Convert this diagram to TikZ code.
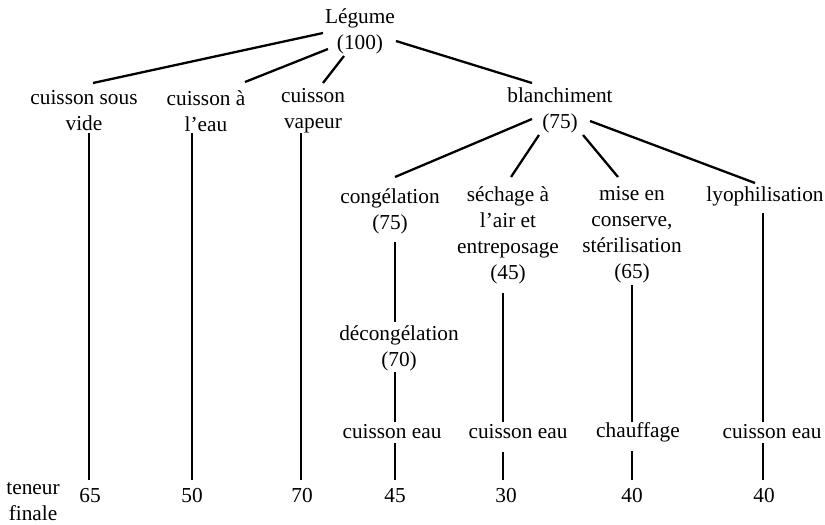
\documentclass[tikz,border=0pt]{standalone}
\usepackage{fontspec}
\setmainfont{Liberation Serif}
\usetikzlibrary{calc}
\begin{document}
\begin{tikzpicture}[x=1pt,y=-1pt,
  lbl/.style={inner sep=0pt,align=center,font=\fontsize{21.3}{26}\selectfont},
  conn/.style={line width=2.3pt}]
\useasboundingbox (0,0) rectangle (825,525);
% nodes
\node[lbl] (leg) at (360,31) {Légume\\(100)};
\node[lbl] (csv) at (84,111) {cuisson sous\\vide};
\node[lbl] (cae) at (206,111) {cuisson à\\l’eau};
\node[lbl] (cvap) at (313,111) {cuisson\\vapeur};
\node[lbl] (bla) at (560,110) {blanchiment\\(75)};
\node[lbl] (cong) at (390,211) {congélation\\(75)};
\node[lbl] (sech) at (508,235) {séchage à\\l’air et\\entreposage\\(45)};
\node[lbl] (mise) at (632,235) {mise en\\conserve,\\stérilisation\\(65)};
\node[lbl] (lyo) at (765,196) {lyophilisation};
\node[lbl] (dec) at (399,348) {décongélation\\(70)};
\node[lbl] (ce1) at (392,432) {cuisson eau};
\node[lbl] (ce2) at (518,432) {cuisson eau};
\node[lbl] (chf) at (638,432) {chauffage};
\node[lbl] (ce3) at (772,432) {cuisson eau};
\node[lbl] (ten) at (33,502) {teneur\\finale};
\node[lbl] (n1) at (90,496) {65};
\node[lbl] (n2) at (192,496) {50};
\node[lbl] (n3) at (302,496) {70};
\node[lbl] (n4) at (395,496) {45};
\node[lbl] (n5) at (506,496) {30};
\node[lbl] (n6) at (632,496) {40};
\node[lbl] (n7) at (764,496) {40};
% diagonal connectors
\draw[conn] ($(leg)+(-37,2)$) -- ($(csv)+(9,-28)$);
\draw[conn] ($(leg)+(-32,18)$) -- ($(cae)+(39,-29)$);
\draw[conn] ($(leg)+(-16,25)$) -- ($(cvap)+(10,-28)$);
\draw[conn] ($(leg)+(36,10)$) -- ($(bla)+(-28,-27)$);
\draw[conn] ($(bla)+(-28,9)$) -- ($(cong)+(5,-34)$);
\draw[conn] ($(bla)+(-21,25)$) -- ($(sech)+(3,-58)$);
\draw[conn] ($(bla)+(23,25)$) -- ($(mise)+(-14,-58)$);
\draw[conn] ($(bla)+(30,11)$) -- ($(lyo)+(-10,-13)$);
% vertical connectors
\draw[conn] ($(csv)+(5,22)$) -- ($(n1)+(-1,-16)$);
\draw[conn] ($(cae)+(-14,22)$) -- ($(n2)+(0,-16)$);
\draw[conn] ($(cvap)+(-12,22)$) -- ($(n3)+(-1,-16)$);
\draw[conn] ($(cong)+(5,31)$) -- ($(dec)+(-4,-26)$);
\draw[conn] ($(dec)+(-4,24)$) -- ($(ce1)+(3,-10)$);
\draw[conn] ($(ce1)+(3,11)$) -- ($(n4)+(0,-16)$);
\draw[conn] ($(sech)+(-5,58)$) -- ($(ce2)+(-15,-10)$);
\draw[conn] ($(ce2)+(-15,20)$) -- ($(n5)+(-3,-16)$);
\draw[conn] ($(mise)+(0,50)$) -- ($(chf)+(-6,-10)$);
\draw[conn] ($(chf)+(-6,19)$) -- ($(n6)+(0,-16)$);
\draw[conn] ($(lyo)+(-2,17)$) -- ($(ce3)+(-9,-10)$);
\draw[conn] ($(ce3)+(-9,11)$) -- ($(n7)+(-1,-16)$);
\end{tikzpicture}
\end{document}
